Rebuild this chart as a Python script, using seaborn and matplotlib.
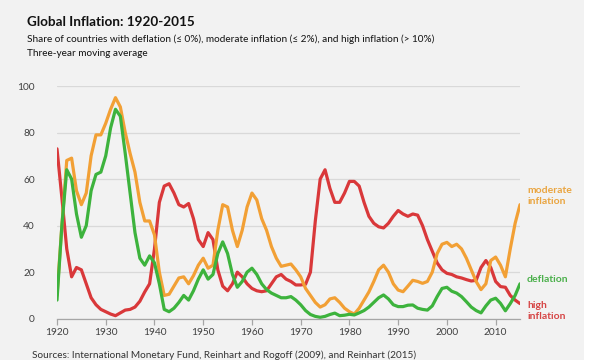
import matplotlib
matplotlib.use("Agg")
import matplotlib.pyplot as plt
import seaborn as sns
import pandas as pd
import numpy as np

years = list(range(1920, 2016))

high_inflation = [73, 52, 30, 18, 22, 21, 15, 9, 6, 4,
                  3, 2, 1.3, 2.5, 3.7, 4, 5, 7.5, 11.5, 15,
                  30, 50, 57, 58, 54, 49, 48, 49.5, 43, 34,
                  31, 37, 34, 21, 14, 12, 15, 20, 18, 15,
                  13, 12, 11.6, 12, 15, 18, 19, 17, 16, 14.5,
                  14.5, 14.8, 20, 42, 60, 64, 56, 50, 50, 54,
                  59, 59, 57, 50, 44, 41, 39.5, 39, 41, 44,
                  46.5, 45, 44, 45, 44.5, 40, 34, 29, 24, 21,
                  19.5, 19, 18, 17.5, 16.8, 16.2, 16.5, 22, 25, 22,
                  16, 13.8, 13.5, 10, 8, 6.5]

moderate_inflation = [10, 40, 68, 69, 55, 49, 54, 70, 79, 79,
                      84, 90, 95, 91, 80, 71, 63, 50, 42, 42,
                      36, 20, 10, 10.5, 14, 17.5, 18, 15, 18.5, 23,
                      26, 21.7, 23, 38, 49, 48, 38, 31, 38, 48,
                      54, 51, 43, 38, 31, 26, 22.5, 23, 23.5, 21,
                      18, 13, 10, 7, 5, 6, 8.5, 9, 7, 4.5,
                      3, 2, 4.5, 8, 11.5, 16, 21, 23, 20, 15,
                      12.3, 11.6, 14, 16.5, 16, 15.2, 16, 20, 28, 32,
                      32.8, 31, 32, 30, 26, 21, 16, 12.5, 15, 25,
                      26.5, 23, 18, 30, 41, 49]

deflation = [8, 40, 64, 60, 45, 35, 40, 55, 62, 63,
             70, 82, 90, 87, 71, 54, 37, 26, 23, 27,
             24, 15, 4, 3, 4.5, 7, 10, 8, 12, 17,
             21, 17, 19, 28, 33, 28, 19, 13.5, 16, 20,
             21.7, 19, 15, 12.5, 11, 10, 9, 9, 9.5, 8,
             6, 3.5, 1.8, 1, 0.6, 1, 1.8, 2.4, 1.3, 1.5,
             1.9, 1.6, 2.5, 3.5, 5, 7, 9, 10.2, 8.5, 6,
             5.2, 5.2, 5.8, 5.9, 4.5, 4, 3.7, 5.5, 9.5, 13,
             13.5, 11.8, 11, 9.5, 7.3, 5, 3.5, 2.5, 5.5, 8,
             8.8, 6.6, 3.4, 6.5, 10, 15]

x_ticks = [1920, 1930, 1940, 1950, 1960, 1970, 1980, 1990, 2000, 2010]
y_ticks = [0, 20, 40, 60, 80, 100]

colors = {"moderate": "#F2A035", "deflation": "#3DB33D", "high": "#D9383A"}
label_colors = {"moderate": "#EAA540", "deflation": "#4CB04C", "high": "#D64545"}

df = pd.DataFrame({
    "year": years * 3,
    "value": moderate_inflation + deflation + high_inflation,
    "series": ["moderate"] * len(years) + ["deflation"] * len(years) + ["high"] * len(years),
})

sns.set_theme(style="white")
plt.rcParams["font.family"] = ["Lato", "DejaVu Sans"]

bg = "#F2F2F2"
fig = plt.figure(figsize=(5.92, 3.6), dpi=100, facecolor=bg)
fig.patches.append(plt.Rectangle((584 / 592, 0), 8 / 592, 1, transform=fig.transFigure,
                                 facecolor="white", edgecolor="none", zorder=0))
ax = fig.add_axes([57 / 592, 1 - 318.7 / 360, (520 - 57) / 592, (318.7 - 86) / 360])
ax.set_facecolor(bg)

sns.lineplot(data=df, x="year", y="value", hue="series", palette=colors,
             hue_order=["high", "moderate", "deflation"], linewidth=2.3,
             legend=False, ax=ax)

ax.set_xlim(1920, 2015)
ax.set_ylim(0, 100)
ax.set_xticks(x_ticks)
ax.set_yticks(y_ticks)
ax.set_xlabel("")
ax.set_ylabel("")
ax.grid(axis="y", color="#D9D9D9", linewidth=0.9)
ax.set_axisbelow(True)
for s in ["top", "right", "left"]:
    ax.spines[s].set_visible(False)
ax.spines["bottom"].set_color("#A6A6A6")
ax.spines["bottom"].set_linewidth(0.9)
ax.tick_params(axis="x", which="both", bottom=True, length=4, width=0.9, color="#A6A6A6",
               labelsize=7.3, labelcolor="#404040", pad=3)
ax.tick_params(axis="y", left=False, labelsize=7.3, labelcolor="#404040", pad=10)

fs = 7.5
fig.text(527 / 592, 1 - 196 / 360, "moderate\ninflation", color=label_colors["moderate"],
         fontsize=fs, fontweight="bold", va="center", ha="left", linespacing=1.15)
fig.text(527 / 592, 1 - 279 / 360, "deflation", color=label_colors["deflation"],
         fontsize=fs, fontweight="bold", va="center", ha="left")
fig.text(527 / 592, 1 - 311 / 360, "high\ninflation", color=label_colors["high"],
         fontsize=fs, fontweight="bold", va="center", ha="left", linespacing=1.15)

fig.text(27 / 592, 1 - 26 / 360, "Global Inflation: 1920-2015", fontsize=9.7,
         fontweight="bold", color="#111111", ha="left", va="baseline")
fig.text(27 / 592, 1 - 42 / 360,
         "Share of countries with deflation (\u2264 0%), moderate inflation (\u2264 2%), and high inflation (> 10%)",
         fontsize=7.2, color="#111111", ha="left", va="baseline")
fig.text(27 / 592, 1 - 56 / 360, "Three-year moving average", fontsize=7.2,
         color="#111111", ha="left", va="baseline")
fig.text(32 / 592, 1 - 358.5 / 360,
         "Sources: International Monetary Fund, Reinhart and Rogoff (2009), and Reinhart (2015)",
         fontsize=7.2, color="#333333", ha="left", va="baseline")

fig.savefig("out.png", dpi=100, facecolor=bg)
